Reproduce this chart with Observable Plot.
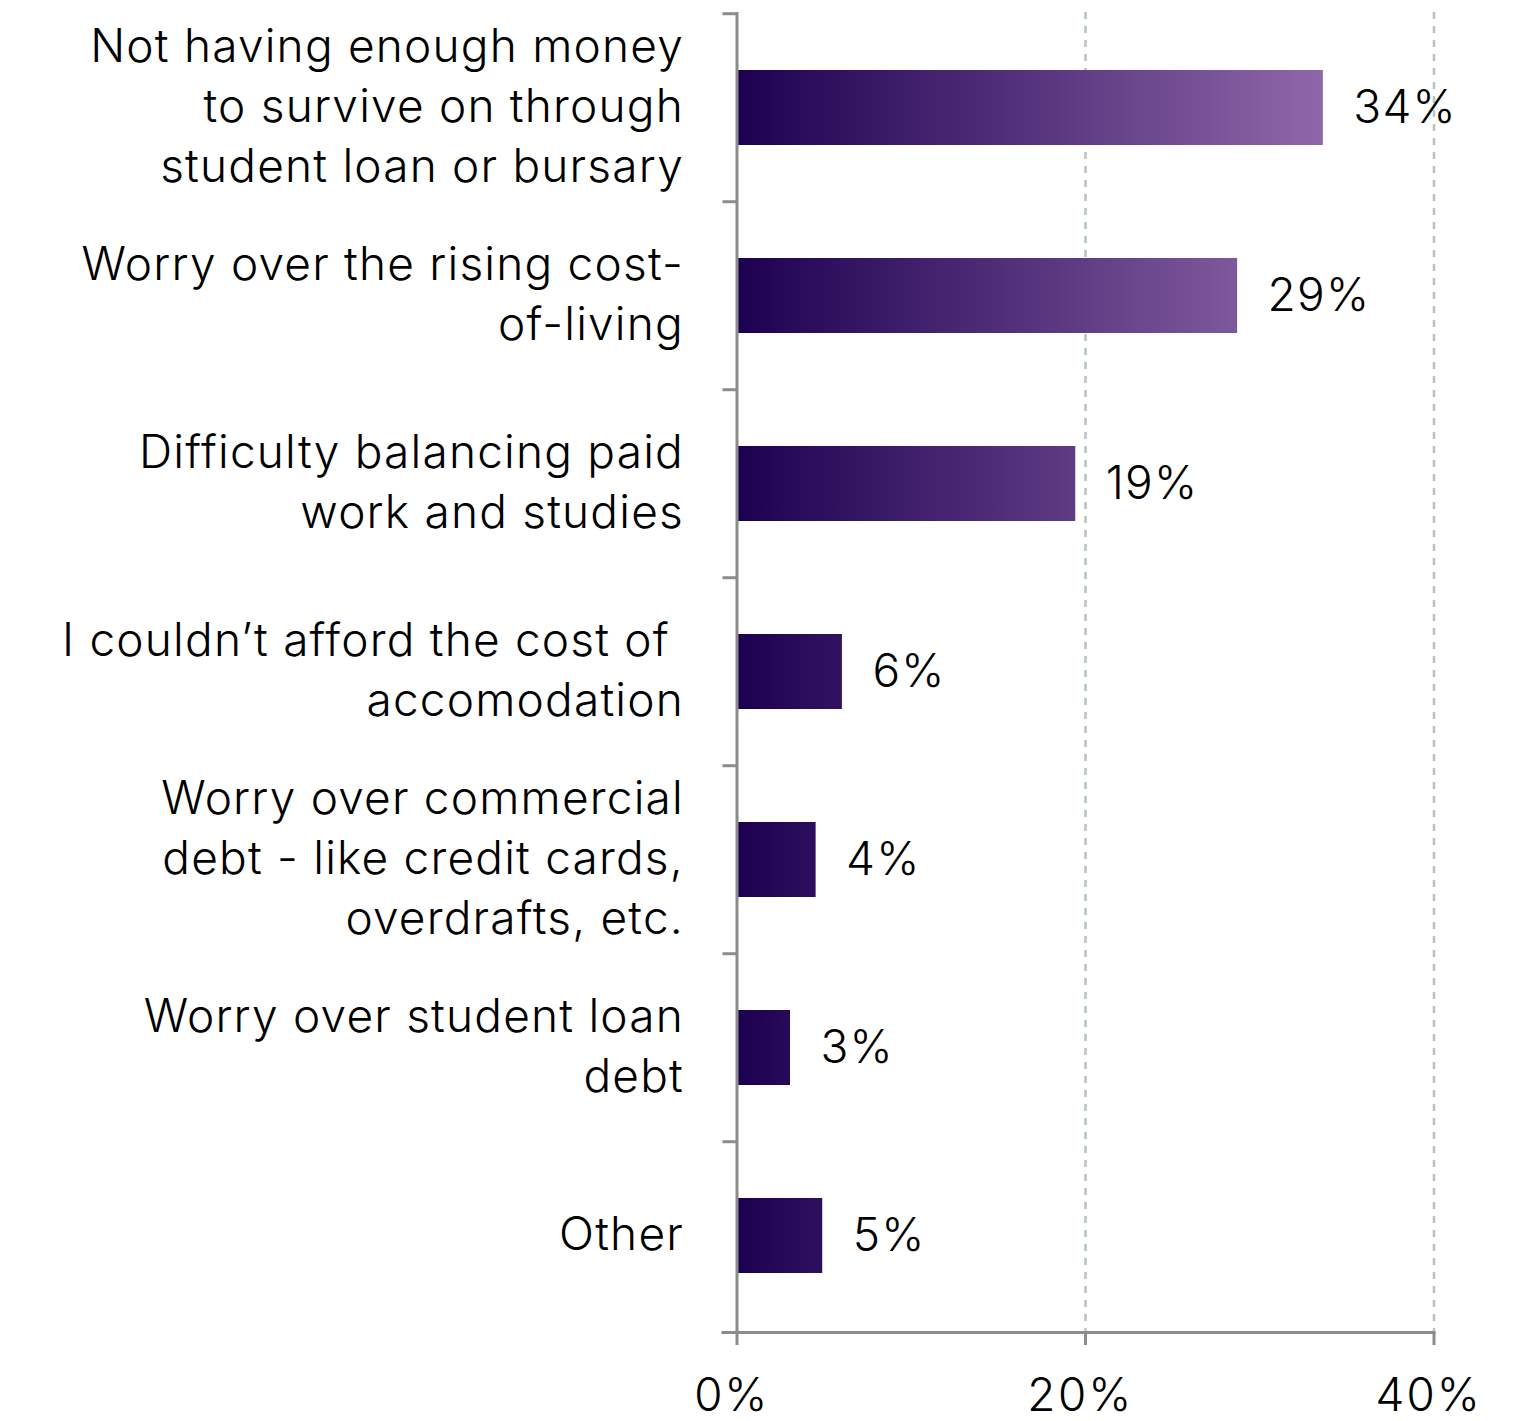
<!DOCTYPE html>
<html>
<head>
<meta charset="utf-8">
<script src="https://cdn.jsdelivr.net/npm/d3@7"></script>
<script src="https://cdn.jsdelivr.net/npm/@observablehq/plot@0.6"></script>
<style>
  html, body { margin: 0; padding: 0; background: #fff; }
  #chart { width: 1538px; height: 1421px; }
</style>
</head>
<body>
<div id="chart"></div>
<script>
const categories = [
  "Not having enough money\nto survive on through\nstudent loan or bursary",
  "Worry over the rising cost-\nof-living",
  "Difficulty balancing paid\nwork and studies",
  "I couldn\u2019t afford the cost of\u00a0\naccomodation",
  "Worry over commercial\ndebt - like credit cards,\noverdrafts, etc.",
  "Worry over student loan\ndebt",
  "Other"
];
const values = [33.65, 28.73, 19.44, 6.05, 4.54, 3.07, 4.92];
const valueLabels = ["34%", "29%", "19%", "6%", "4%", "3%", "5%"];
const xTicks = [0, 20, 40];
const gridTicks = [20, 40];

const data = categories.map((c, i) => ({category: c, value: values[i], label: valueLabels[i]}));

const W = 1538, H = 1421, mT = 12, mB = 89;
const step = (H - mT - mB) / categories.length;
const FONT = "Inter, 'Liberation Sans', sans-serif";
const FS = 46;
const axisColor = "#8c8c8c";

const plot = Plot.plot({
  width: W,
  height: H,
  marginLeft: 736.5,
  marginRight: 104.5,
  marginTop: mT,
  marginBottom: mB,
  style: `font-family: ${FONT}; font-weight: 300; font-size: ${FS}px; letter-spacing: 1.2px; color: #000; background: #fff;`,
  x: {domain: [0, 40]},
  y: {domain: categories, paddingInner: 0.6, paddingOuter: 0.3},
  marks: [
    Plot.ruleX(gridTicks, {stroke: "#b3c4c2", strokeWidth: 2.5, strokeDasharray: "7,7"}),
    Plot.barX(data, {x: "value", y: "category", fill: "url(#barGrad)"}),
    Plot.text(data, {x: "value", y: "category", text: "label", textAnchor: "start", dx: 30, fontSize: FS, fill: "#000"}),
    Plot.axisY({tickSize: 0, tickPadding: 53, fontSize: FS, lineHeight: 1.3, dy: -5, fill: "#000", label: null}),
    Plot.axisY({tickSize: 14, tickFormat: () => "", dy: -step / 2, stroke: axisColor, strokeWidth: 3, label: null}),
    Plot.axisX({ticks: xTicks, tickSize: 13, tickFormat: () => "", stroke: axisColor, strokeWidth: 3, label: null}),
    Plot.axisX({ticks: xTicks, tickSize: 0, tickPadding: 46, tickFormat: d => d + "%", fontSize: FS, fill: "#000", label: null, dx: -6}),
    Plot.ruleX([0], {stroke: axisColor, strokeWidth: 3}),
    Plot.frame({anchor: "bottom", insetLeft: -14, stroke: axisColor, strokeWidth: 3})
  ]
});

const xs = plot.scale("x");
const ns = "http://www.w3.org/2000/svg";
const defs = document.createElementNS(ns, "defs");
const grad = document.createElementNS(ns, "linearGradient");
grad.setAttribute("id", "barGrad");
grad.setAttribute("gradientUnits", "userSpaceOnUse");
grad.setAttribute("x1", xs.apply(0));
grad.setAttribute("x2", xs.apply(d3.max(values)));
grad.setAttribute("y1", 0);
grad.setAttribute("y2", 0);
[["0%", "#1c0050"], ["100%", "#8f67a9"]].forEach(([o, c]) => {
  const s = document.createElementNS(ns, "stop");
  s.setAttribute("offset", o);
  s.setAttribute("stop-color", c);
  grad.appendChild(s);
});
defs.appendChild(grad);
plot.insertBefore(defs, plot.firstChild);

document.getElementById("chart").appendChild(plot);
</script>
</body>
</html>
